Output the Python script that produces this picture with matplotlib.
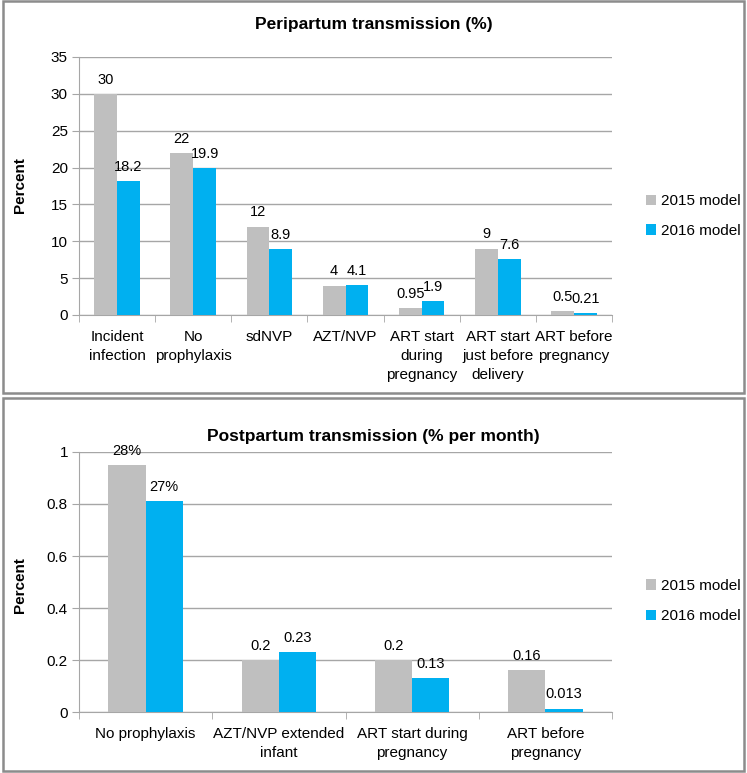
import matplotlib
matplotlib.use('Agg')
import numpy as np
import matplotlib.pyplot as plt
from matplotlib.patches import Rectangle

plt.rcParams['font.family'] = ['Liberation Sans', 'DejaVu Sans']

# peripartum data
peri_cats = ['Incident\ninfection', 'No\nprophylaxis', 'sdNVP', 'AZT/NVP',
             'ART start\nduring\npregnancy', 'ART start\njust before\ndelivery',
             'ART before\npregnancy']
peri_2015 = [30, 22, 12, 4, 0.95, 9, 0.5]
peri_2016 = [18.2, 19.9, 8.9, 4.1, 1.9, 7.6, 0.21]
peri_lab15 = ['30', '22', '12', '4', '0.95', '9', '0.5']
peri_lab16 = ['18.2', '19.9', '8.9', '4.1', '1.9', '7.6', '0.21']
peri_yticks = [0, 5, 10, 15, 20, 25, 30, 35]

# postpartum data
post_cats = ['No prophylaxis', 'AZT/NVP extended\ninfant', 'ART start during\npregnancy',
             'ART before\npregnancy']
post_2015 = [0.95, 0.2, 0.2, 0.16]
post_2016 = [0.81, 0.23, 0.13, 0.013]
post_lab15 = ['28%', '0.2', '0.2', '0.16']
post_lab16 = ['27%', '0.23', '0.13', '0.013']
post_yticks = [0, 0.2, 0.4, 0.6, 0.8, 1]

series = ['2015 model', '2016 model']
c15 = '#BFBFBF'
c16 = '#00B0F0'
W, H = 747., 773.

fig = plt.figure(figsize=(7.47, 7.73), dpi=100)

# panel frames
for (x0, y0, x1, y1) in [(3, 1, 744, 393), (3, 398, 744, 771)]:
    fig.patches.append(Rectangle((x0/W, 1-y1/H), (x1-x0)/W, (y1-y0)/H,
                                 transform=fig.transFigure, fill=False,
                                 edgecolor='#8C8C8C', lw=1.8))

def panel(rect, cats, v15, v16, l15, l16, yticks, ymax, bw, title, ty, leg_y, lspace, ylab_y, fmt):
    ax = fig.add_axes(rect)
    n = len(cats)
    x = np.arange(n)
    ax.bar(x - bw/2, v15, bw, color=c15, label=series[0], zorder=3)
    ax.bar(x + bw/2, v16, bw, color=c16, label=series[1], zorder=3)
    off = ymax * 0.028
    for i in range(n):
        ax.text(x[i] - bw/2, v15[i] + off, l15[i], ha='center', va='bottom', fontsize=10.5)
        ax.text(x[i] + bw/2, v16[i] + off, l16[i], ha='center', va='bottom', fontsize=10.5)
    ax.set_xlim(-0.5, n - 0.5)
    ax.set_ylim(0, ymax)
    ax.set_yticks(yticks)
    ax.set_yticklabels([fmt(t) for t in yticks], fontsize=11)
    ax.yaxis.grid(True, color='#A6A6A6', lw=1, zorder=0)
    ax.set_xticks(x)
    ax.set_xticklabels(cats, fontsize=11, va='top', linespacing=1.45)
    ax.set_xticks(np.arange(n + 1) - 0.5, minor=True)
    ax.tick_params(axis='x', which='major', length=0, pad=11)
    ax.tick_params(axis='x', which='minor', length=5, color='#A6A6A6')
    ax.tick_params(axis='y', length=5, color='#A6A6A6', pad=3)
    for s in ['top', 'right']:
        ax.spines[s].set_visible(False)
    for s in ['left', 'bottom']:
        ax.spines[s].set_color('#A6A6A6')
    fig.text(0.5, 1 - ty/H, title, ha='center', va='center', fontsize=12.5, fontweight='bold')
    fig.text(20/W, 1 - ylab_y/H, 'Percent', ha='center', va='center', rotation=90,
             fontsize=11, fontweight='bold')
    ax.legend(loc='center left', bbox_to_anchor=(632/W, 1 - leg_y/H),
              bbox_transform=fig.transFigure, frameon=False, fontsize=11,
              handlelength=0.7, handleheight=0.7, handletextpad=0.3,
              labelspacing=lspace)
    return ax

panel([79/W, 1 - 315/H, 533/W, 258/H], peri_cats, peri_2015, peri_2016,
      peri_lab15, peri_lab16, peri_yticks, 35, 0.30,
      'Peripartum transmission (%)', 25, 216, 1.0, 185, lambda t: '%d' % t)

panel([79/W, 1 - 712/H, 533/W, 260/H], post_cats, post_2015, post_2016,
      post_lab15, post_lab16, post_yticks, 1, 0.28,
      'Postpartum transmission (% per month)', 437, 601, 1.1, 585,
      lambda t: ('%g' % t))

fig.savefig('out.png', dpi=100)
